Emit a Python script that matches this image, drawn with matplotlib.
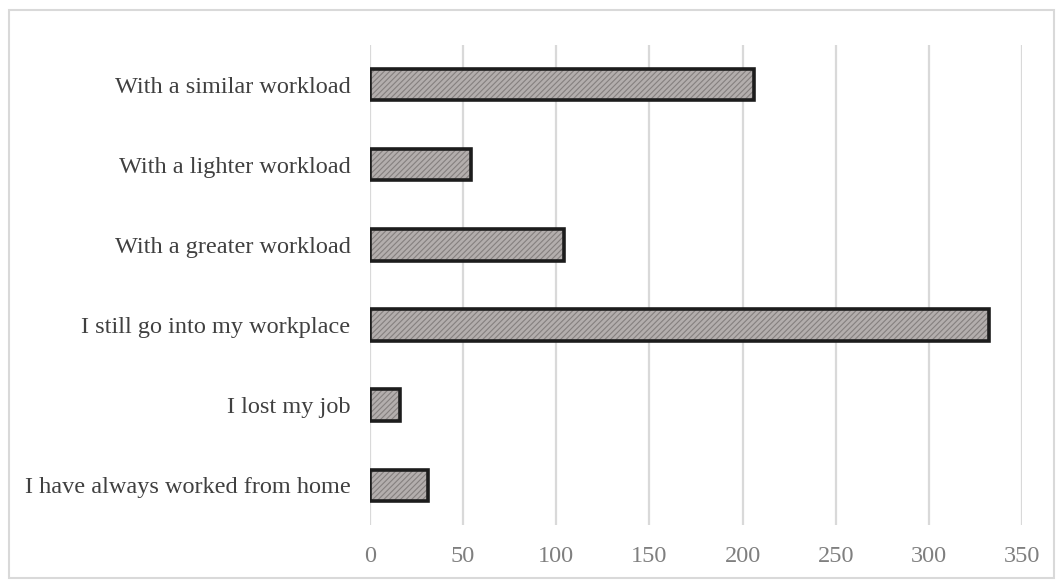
import matplotlib
matplotlib.use("Agg")
import matplotlib.pyplot as plt
from matplotlib.patches import Rectangle

# survey answers, bottom to top as drawn
categories = [
    "I have always worked from home",
    "I lost my job",
    "I still go into my workplace",
    "With a greater workload",
    "With a lighter workload",
    "With a similar workload",
]
counts = [31, 16, 332, 104, 54, 206]
xticks = [0, 50, 100, 150, 200, 250, 300, 350]

plt.rcParams["font.family"] = ["Liberation Serif", "DejaVu Serif"]
plt.rcParams["hatch.linewidth"] = 0.8

fig = plt.figure(figsize=(10.63, 5.81), dpi=100)
ax = fig.add_axes([0.348, 0.096, 0.6135, 0.827])

y = range(len(categories))
# hatched fill first, then the heavy outline on top
ax.barh(y, counts, height=0.39, color="#b3aead", edgecolor="#85807f",
        hatch="//////", linewidth=0, zorder=2)
ax.barh(y, counts, height=0.39, fill=False, edgecolor="#1c1c1c",
        linewidth=2.6, zorder=3)

ax.set_xlim(0, 350)
ax.set_ylim(-0.5, len(categories) - 0.5)
ax.set_xticks(xticks)
ax.set_yticks(list(y))
ax.set_yticklabels(categories, fontsize=17.5, color="#404040")
ax.tick_params(axis="x", labelsize=17.5, labelcolor="#7f7f7f", length=0, pad=15)
ax.tick_params(axis="y", length=0, pad=14)
ax.grid(axis="x", color="#d9d9d9", lw=1.6, zorder=0)
for s in ax.spines.values():
    s.set_visible(False)

# light frame around the whole chart
fig.patches.append(Rectangle((0.008, 0.006), 0.984, 0.977, transform=fig.transFigure,
                             fill=False, edgecolor="#d9d9d9", lw=1.5))

fig.savefig("out.png", dpi=100)
